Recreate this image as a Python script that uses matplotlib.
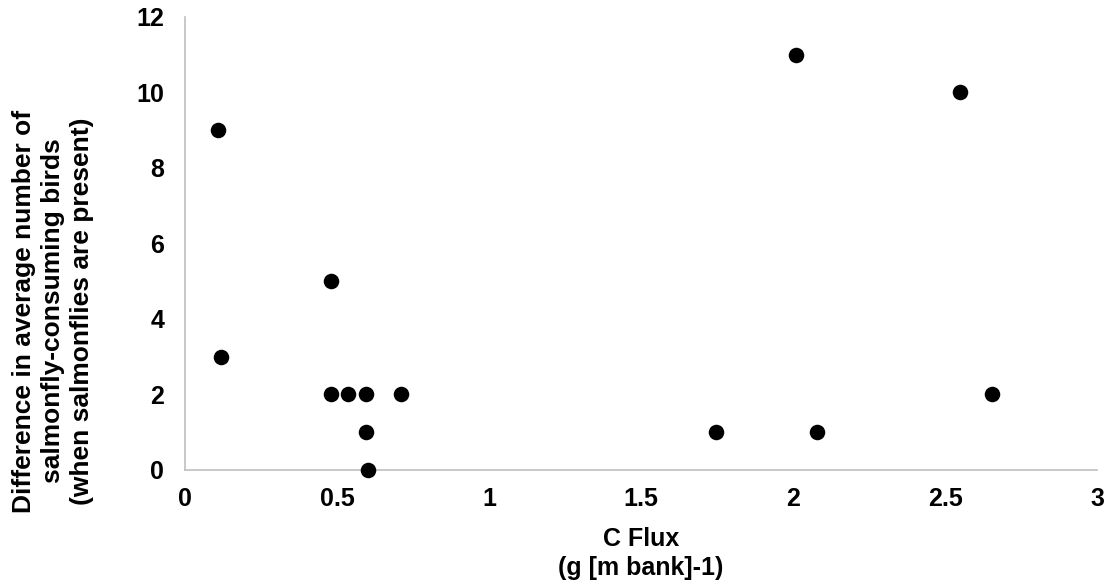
import matplotlib
matplotlib.use("Agg")
import matplotlib.pyplot as plt

c_flux = [0.109, 0.118, 0.481, 0.481, 0.537, 0.594, 0.594, 0.602, 0.712, 1.745, 2.01, 2.077, 2.55, 2.654]
bird_diff = [9, 3, 5, 2, 2, 2, 1, 0, 2, 1, 11, 1, 10, 2]
x_ticks = [0, 0.5, 1, 1.5, 2, 2.5, 3]
x_tick_labels = ["0", "0.5", "1", "1.5", "2", "2.5", "3"]
y_ticks = [0, 2, 4, 6, 8, 10, 12]

plt.rcParams['font.family'] = ['Liberation Sans', 'DejaVu Sans']

fig = plt.figure(figsize=(11.14, 5.86), dpi=100)
ax = fig.add_axes([0.166, 0.198, 0.819, 0.773])
ax.scatter(c_flux, bird_diff, s=125, color='black', zorder=3, clip_on=False, linewidths=0)
ax.set_xlim(0, 3)
ax.set_ylim(0, 12)
ax.set_xticks(x_ticks)
ax.set_xticklabels(x_tick_labels)
ax.set_yticks(y_ticks)
for s in ['top', 'right']:
    ax.spines[s].set_visible(False)
for s in ['left', 'bottom']:
    ax.spines[s].set_color('#bfbfbf')
    ax.spines[s].set_linewidth(1.2)
ax.tick_params(axis='x', length=0, labelsize=18, pad=12)
ax.tick_params(axis='y', length=0, labelsize=18, pad=15)
for lbl in ax.get_xticklabels() + ax.get_yticklabels():
    lbl.set_fontweight('bold')
ax.set_xlabel("C Flux\n(g [m bank]-1)", fontsize=18, fontweight='bold', labelpad=12,
              linespacing=1.25)
fig.text(53 / 1114, 1 - 311 / 586,
         "Difference in average number of\nsalmonfly-consuming birds\n(when salmonflies are present)",
         fontsize=19, fontweight='bold', rotation=90, ha='center', va='center',
         multialignment='center', linespacing=1.25)
fig.savefig("out.png", dpi=100)
